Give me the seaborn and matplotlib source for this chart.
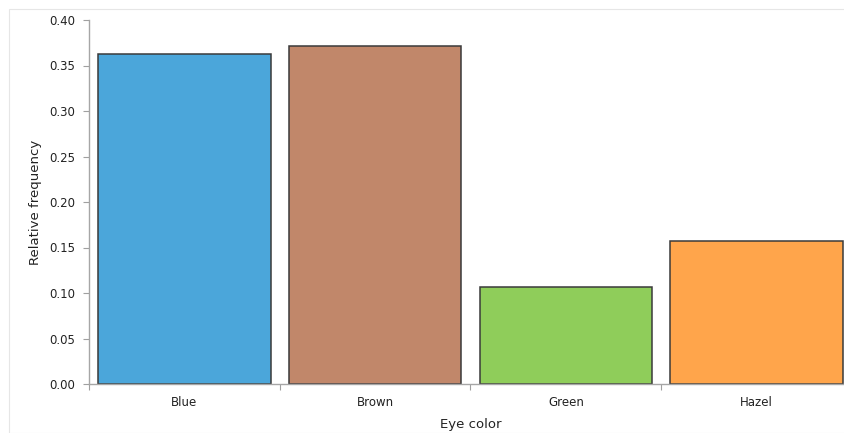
import matplotlib
matplotlib.use("Agg")
import matplotlib.pyplot as plt
import seaborn as sns
import pandas as pd
from matplotlib.patches import Rectangle

categories = ["Blue", "Brown", "Green", "Hazel"]
values = [0.3626, 0.371, 0.107, 0.1566]
colors = ["#4BA6DA", "#C1876A", "#8FCD5A", "#FFA54B"]
yticks = [0.00, 0.05, 0.10, 0.15, 0.20, 0.25, 0.30, 0.35, 0.40]

sns.set_style("white")
plt.rcParams["font.family"] = ["DejaVu Sans"]

df = pd.DataFrame({"Eye color": categories, "Relative frequency": values})

fig = plt.figure(figsize=(8.44, 4.33), dpi=100)
fig.patches.append(Rectangle((9/844, 0), 1, 1 - 9/433, transform=fig.transFigure,
                             fill=False, edgecolor="#E6E6E6", linewidth=0.8, zorder=0))
ax = fig.add_axes([89/844, 49/433, (852-89)/844, (384-20)/433])

sns.barplot(data=df, x="Eye color", y="Relative frequency", hue="Eye color",
            palette=colors, width=0.905, edgecolor="#3A3A3A", linewidth=1.1,
            legend=False, ax=ax, saturation=1)

ax.set_xlim(-0.5, 3.5)
ax.set_ylim(0, 0.40)
ax.set_yticks(yticks)
ax.set_yticklabels([f"{t:.2f}" for t in yticks])
ax.set_xticks(range(len(categories)))
ax.set_xticklabels(categories)
ax.set_xticks([-0.5, 0.5, 1.5, 2.5, 3.5], minor=True)
ax.tick_params(axis="x", which="major", length=0, pad=9, labelsize=8.5, colors="#222222")
ax.tick_params(axis="x", which="minor", length=4, width=0.8, color="#A0A0A0", direction="out", bottom=True)
ax.tick_params(axis="y", length=4, width=0.8, color="#A0A0A0", direction="out", left=True,
               labelsize=8.5, labelcolor="#222222", pad=6)

for s in ["top", "right"]:
    ax.spines[s].set_visible(False)
for s in ["left", "bottom"]:
    ax.spines[s].set_color("#A6A6A6")
    ax.spines[s].set_linewidth(1.0)

ax.set_xlabel("Eye color", fontsize=9.5, color="#222222", labelpad=6)
ax.set_ylabel("Relative frequency", fontsize=9.5, color="#222222", labelpad=5)

fig.savefig("out.png", dpi=100)
